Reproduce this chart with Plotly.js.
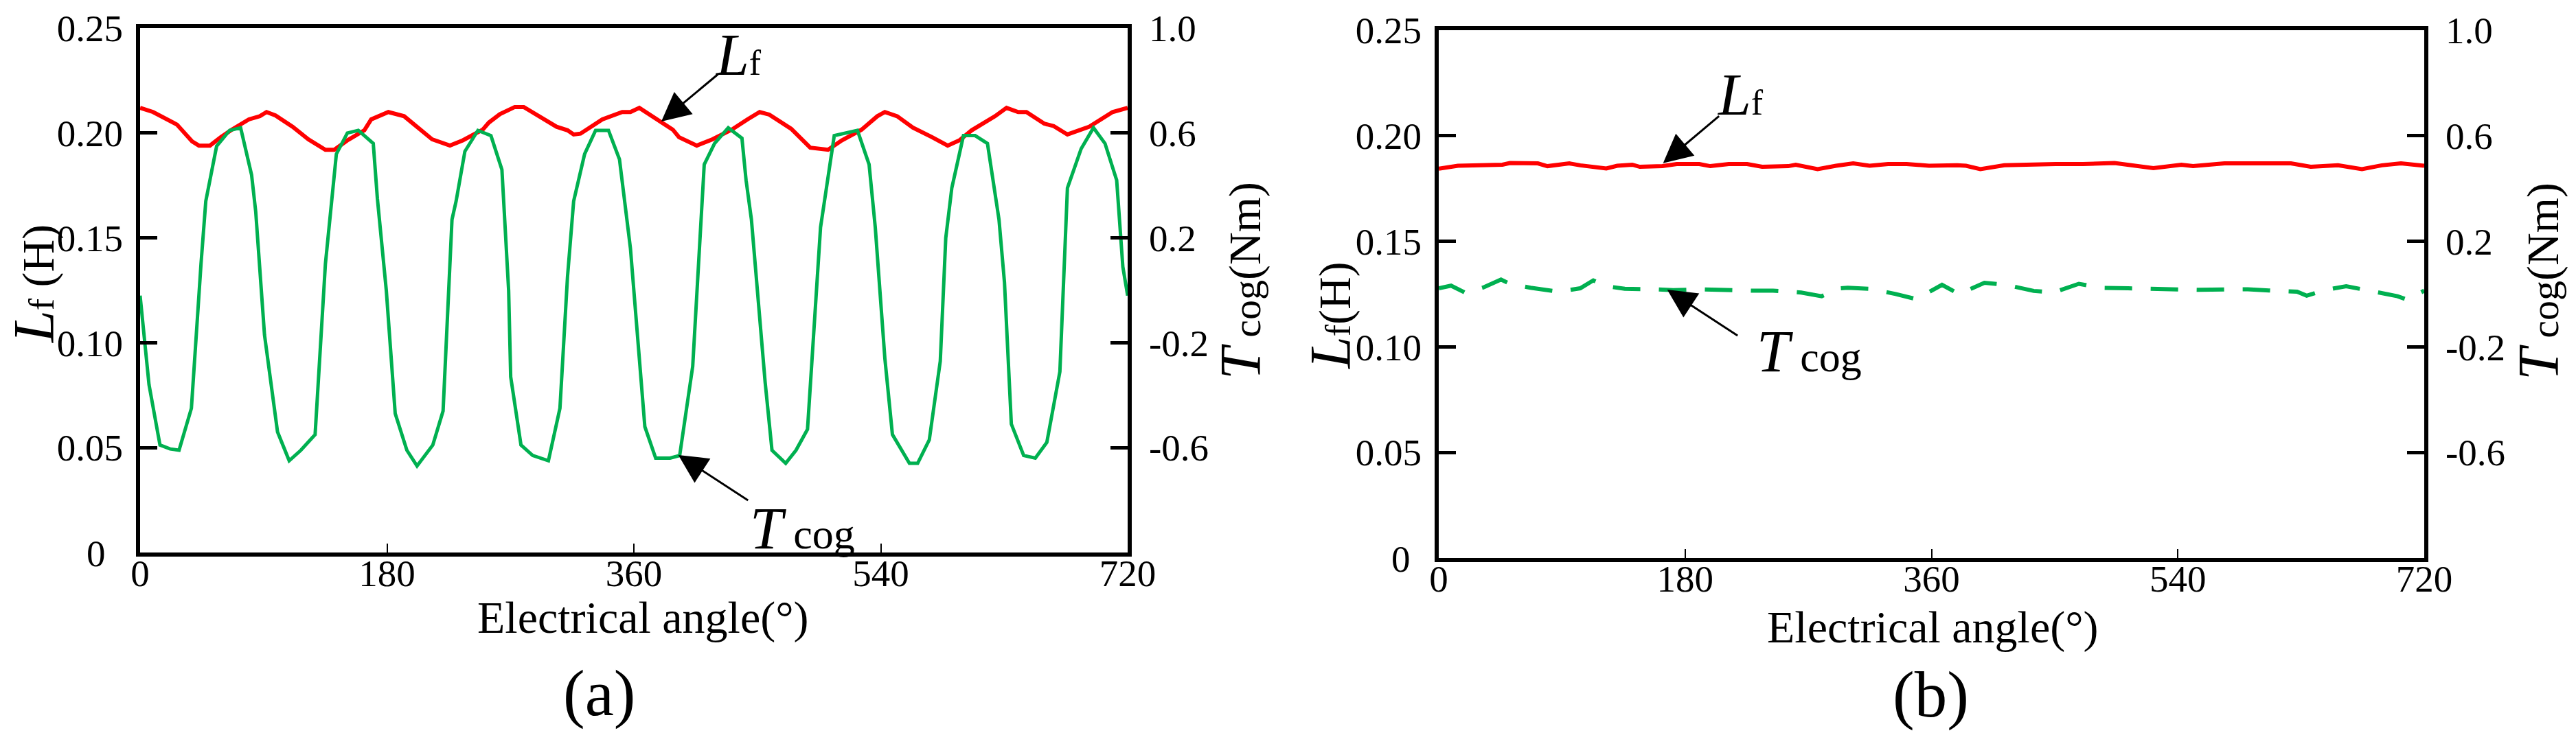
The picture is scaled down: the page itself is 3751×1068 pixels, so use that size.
<!DOCTYPE html>
<html>
<head>
<meta charset="utf-8">
<script src="https://cdn.plot.ly/plotly-3.0.1.min.js"></script>
<style>html,body{margin:0;padding:0;background:#fff;}#chart{width:3751px;height:1068px;}</style>
</head>
<body>
<div id="chart"></div>
<script>
// ---------- data (a) ----------
var angleLfA = [0, 9.5, 26.9, 37.9, 42.9, 50.9, 58.8, 66.8, 79.3, 87.3, 92.2, 98.7, 111.2, 122.7, 135.1, 141.6, 151.1, 163.5, 168.5, 181, 192.5, 204.9, 212.9, 225.9, 235.3, 249.8, 254.3, 262.3, 273.2, 279.7, 294.2, 303.6, 311.6, 316.1, 321.1, 337, 351.5, 357.5, 364, 378.4, 388.4, 392.9, 405.9, 417.3, 431.3, 442.8, 451.7, 458.7, 474.7, 488.6, 501.6, 511.6, 526, 537.5, 543, 552, 563.4, 577.4, 588.8, 597.3, 606.3, 623.3, 631.7, 640.2, 646.2, 659.1, 666.1, 676.1, 692.1, 709, 720];
var LfA = [0.212, 0.210, 0.204, 0.196, 0.194, 0.194, 0.198, 0.2016, 0.2065, 0.208, 0.210, 0.2084, 0.203, 0.197, 0.192, 0.192, 0.1965, 0.2013, 0.2065, 0.210, 0.208, 0.2013, 0.197, 0.194, 0.1965, 0.2016, 0.205, 0.209, 0.2124, 0.2124, 0.207, 0.203, 0.2013, 0.1993, 0.1997, 0.2065, 0.210, 0.210, 0.212, 0.206, 0.2016, 0.198, 0.194, 0.197, 0.2016, 0.2065, 0.210, 0.2088, 0.202, 0.193, 0.192, 0.1965, 0.2016, 0.208, 0.210, 0.208, 0.2026, 0.198, 0.194, 0.1965, 0.2013, 0.208, 0.212, 0.210, 0.210, 0.2045, 0.2033, 0.1993, 0.203, 0.210, 0.212];

var angleTcogA = [0, 6.5, 14.5, 21.9, 28.4, 37.4, 44.4, 47.9, 55.8, 65.3, 73.3, 81.3, 84.3, 90.7, 100.2, 108.7, 117.2, 127.6, 135.1, 143.1, 151.1, 159.1, 170.0, 173.0, 179.5, 186.0, 194.5, 201.9, 213.4, 220.9, 227.4, 230.4, 236.8, 246.3, 255.8, 263.8, 268.7, 270.2, 277.7, 286.2, 297.7, 306.1, 311.6, 316.1, 324.1, 332.1, 341.5, 349.5, 357.5, 368.0, 375.9, 386.4, 393.4, 402.9, 411.3, 418.8, 428.8, 438.8, 441.8, 445.7, 455.7, 460.7, 470.7, 478.2, 486.6, 496.1, 506.1, 514.6, 523.0, 531.5, 536.0, 543.0, 548.5, 560.9, 566.9, 575.4, 583.4, 587.4, 591.8, 600.3, 608.8, 617.8, 626.2, 630.2, 635.2, 644.2, 652.7, 661.1, 670.6, 676.1, 686.1, 695.1, 703.5, 712.0, 716.5, 720];
var TcogA = [-0.02, -0.36, -0.59, -0.605, -0.61, -0.45, 0.10, 0.34, 0.55, 0.61, 0.62, 0.44, 0.30, -0.17, -0.54, -0.65, -0.61, -0.55, 0.10, 0.52, 0.60, 0.61, 0.56, 0.35, 0.00, -0.47, -0.61, -0.67, -0.59, -0.46, 0.27, 0.34, 0.53, 0.61, 0.59, 0.46, 0.00, -0.33, -0.59, -0.63, -0.65, -0.45, 0.05, 0.34, 0.52, 0.61, 0.61, 0.50, 0.16, -0.52, -0.64, -0.64, -0.63, -0.29, 0.48, 0.56, 0.62, 0.58, 0.42, 0.27, -0.35, -0.61, -0.66, -0.61, -0.53, 0.24, 0.59, 0.60, 0.61, 0.48, 0.24, -0.26, -0.55, -0.66, -0.66, -0.57, -0.27, 0.20, 0.39, 0.59, 0.59, 0.56, 0.27, 0.03, -0.51, -0.63, -0.64, -0.58, -0.31, 0.39, 0.54, 0.62, 0.56, 0.42, 0.09, -0.02];

// ---------- data (b) ----------
var angleLfB = [0, 14.0, 46.5, 52.0, 72.4, 79.4, 95.4, 103.4, 122.4, 130.4, 141.4, 146.9, 163.4, 173.9, 190.4, 198.4, 211.9, 225.3, 236.3, 255.3, 260.8, 276.8, 290.3, 302.8, 314.8, 328.3, 341.8, 358.2, 378.7, 385.2, 395.7, 413.2, 450.7, 470.7, 493.7, 522.1, 542.6, 551.1, 574.1, 591.1, 608.6, 622.6, 637.1, 657.0, 674.5, 689.0, 703.0, 720];
var LfB = [0.1844, 0.1858, 0.1863, 0.1871, 0.1869, 0.1856, 0.1869, 0.1860, 0.1845, 0.1858, 0.1863, 0.1853, 0.1856, 0.1866, 0.1866, 0.1856, 0.1866, 0.1866, 0.1853, 0.1856, 0.1863, 0.1842, 0.1858, 0.1869, 0.1858, 0.1866, 0.1866, 0.1858, 0.1860, 0.1858, 0.1842, 0.1860, 0.1866, 0.1866, 0.1871, 0.1847, 0.1863, 0.1856, 0.1869, 0.1869, 0.1866, 0.1869, 0.1853, 0.1860, 0.1842, 0.1860, 0.1869, 0.1858];

var angleTcogB = [0, 9.0, 19.5, 33.0, 45.5, 52.0, 67.0, 87.4, 103.4, 112.9, 122.4, 135.9, 157.9, 171.4, 192.9, 209.4, 229.3, 244.3, 264.8, 279.8, 293.3, 298.8, 314.8, 333.8, 348.8, 367.7, 380.2, 398.7, 414.7, 434.7, 449.2, 467.7, 483.7, 503.6, 519.6, 539.6, 555.1, 575.6, 591.1, 612.6, 627.1, 634.1, 647.0, 663.0, 681.5, 700.5, 707.5, 720];
var TcogB = [0.022, 0.032, 0.005, 0.026, 0.055, 0.039, 0.024, 0.009, 0.022, 0.052, 0.030, 0.020, 0.018, 0.015, 0.018, 0.015, 0.013, 0.013, 0.006, -0.008, 0.022, 0.024, 0.020, 0.0005, -0.019, 0.035, 0.000, 0.043, 0.035, 0.012, 0.006, 0.039, 0.024, 0.022, 0.020, 0.018, 0.016, 0.018, 0.018, 0.012, 0.009, -0.006, 0.015, 0.030, 0.013, -0.008, -0.021, 0.013];

// ---------- axes ticks ----------
var angleTicks = [0, 180, 360, 540, 720];
var angleTickText = ['0', '180', '360', '540', '720'];
var LfTicks = [0.05, 0.10, 0.15, 0.20, 0.25];
var LfTickText = ['0.05', '0.10', '0.15', '0.20', '0.25'];
var TcogTicks = [-0.6, -0.2, 0.2, 0.6, 1.0];
var TcogTickText = ['-0.6', '-0.2', '0.2', '0.6', '1.0'];

var FONT = 'Liberation Serif';
var W = 3751, H = 1068;
function px(x) { return x / W; }
function py(y) { return 1 - y / H; }

var RED = '#FF0000', GREEN = '#00B050';

// red curves sit on the framed x axes, green curves on the overlaid label x axes (same range/domain)
var traces = [
  {x: angleLfA, y: LfA, xaxis: 'x', yaxis: 'y', mode: 'lines', line: {color: RED, width: 6}},
  {x: angleTcogA, y: TcogA, xaxis: 'x3', yaxis: 'y2', mode: 'lines', line: {color: GREEN, width: 5}},
  {x: angleLfB, y: LfB, xaxis: 'x2', yaxis: 'y3', mode: 'lines', line: {color: RED, width: 6}},
  {x: angleTcogB, y: TcogB, xaxis: 'x4', yaxis: 'y4', mode: 'lines', line: {color: GREEN, width: 6, dash: '40px,27px'}}
];

// framed x axes: box lines + inside tick marks
function xAx(domain, anchor) {
  return {
    domain: domain, anchor: anchor, range: [0, 720], tickmode: 'array',
    tickvals: angleTicks, ticktext: angleTickText,
    ticks: 'inside', ticklen: 13, tickwidth: 2, tickcolor: '#000',
    showline: true, linewidth: 6, linecolor: '#000', mirror: true,
    showgrid: false, zeroline: false, fixedrange: true, showticklabels: false
  };
}
// overlaid x axes carrying the tick labels, placed just under the frame
function xLab(overlay, pos) {
  return {
    overlaying: overlay, anchor: 'free', position: pos, side: 'bottom', range: [0, 720], tickmode: 'array',
    tickvals: angleTicks, ticktext: angleTickText, ticks: '', showline: false,
    showgrid: false, zeroline: false, fixedrange: true,
    tickfont: {family: FONT, size: 55, color: '#000'}
  };
}
function yLeft(domain, anchor) {
  return {
    domain: domain, anchor: anchor, range: [0, 0.25], tickmode: 'array',
    tickvals: LfTicks, ticktext: LfTickText,
    ticks: 'inside', ticklen: 25, tickwidth: 5, tickcolor: '#000',
    showline: true, linewidth: 6, linecolor: '#000',
    showgrid: false, zeroline: false, fixedrange: true,
    tickfont: {family: FONT, size: 55, color: '#000'}, ticklabelstandoff: 8
  };
}
function yRight(overlay, anchor) {
  return {
    overlaying: overlay, anchor: anchor, side: 'right', range: [-1, 1], tickmode: 'array',
    tickvals: TcogTicks, ticktext: TcogTickText,
    ticks: 'inside', ticklen: 25, tickwidth: 5, tickcolor: '#000',
    showline: true, linewidth: 6, linecolor: '#000',
    showgrid: false, zeroline: false, fixedrange: true,
    tickfont: {family: FONT, size: 55, color: '#000'}, ticklabelstandoff: 14
  };
}

function txt(text, x, y, size, angle) {
  return {text: text, xref: 'paper', yref: 'paper', x: px(x), y: py(y),
    xanchor: 'center', yanchor: 'middle', showarrow: false, textangle: angle || 0,
    font: {family: FONT, size: size, color: '#000'}};
}
function arrow(xref, yref, x, y, ax, ay) {
  return {text: '', xref: xref, yref: yref, x: x, y: y, ax: ax, ay: ay,
    showarrow: true, arrowhead: 2, arrowsize: 2.8, arrowwidth: 3, arrowcolor: '#000', standoff: 0};
}

var LfLabel = '<i>L</i><span style="font-size:52px">f</span>';
var TcogLabel = '<i>T</i><span style="font-size:62px"> cog</span>';

var annotations = [
  // panel (a)
  txt(LfLabel, 1075, 80, 86),
  arrow('x', 'y', 380, 0.2055, 84, -70),
  txt(TcogLabel, 1168, 770, 86),
  arrow('x', 'y2', 392.4, -0.628, 103, 67),
  txt('0', 140, 806, 55),
  txt('Electrical angle(°)', 936, 900, 66),
  txt('(a)', 872, 1010, 95),
  txt('<i>L</i><span style="font-size:52px">f</span><span style="font-size:66px"> (H)</span>', 50, 414, 84, -90),
  txt('<i>T</i><span style="font-size:58px"> cog</span><span style="font-size:66px">(Nm)</span>', 1806, 409, 84, -90),
  // panel (b)
  txt(LfLabel, 2534, 138, 86),
  arrow('x2', 'y3', 163.9, 0.187, 83, -70),
  txt(TcogLabel, 2634, 512, 86),
  arrow('x2', 'y4', 166.9, 0.0168, 104, 68),
  txt('0', 2040, 814, 55),
  txt('Electrical angle(°)', 2814, 914, 66),
  txt('(b)', 2811, 1012, 95),
  txt('<i>L</i><span style="font-size:52px">f</span><span style="font-size:66px">(H)</span>', 1938, 460, 84, -90),
  txt('<i>T</i><span style="font-size:58px"> cog</span><span style="font-size:66px">(Nm)</span>', 3697, 410, 84, -90)
];

var domA = [204 / W, 1642 / W], domB = [2095 / W, 3530 / W];
var layout = {
  width: W, height: H, margin: {l: 0, r: 0, t: 0, b: 0, pad: 0},
  paper_bgcolor: '#fff', plot_bgcolor: 'rgba(0,0,0,0)', showlegend: false,
  font: {family: FONT, color: '#000'},
  xaxis: xAx(domA, 'y'),
  yaxis: yLeft([(H - 805) / H, (H - 41) / H], 'x'),
  yaxis2: yRight('y', 'x'),
  xaxis2: xAx(domB, 'y3'),
  yaxis3: yLeft([(H - 813) / H, (H - 44) / H], 'x2'),
  yaxis4: yRight('y3', 'x2'),
  xaxis3: xLab('x', py(798)),
  xaxis4: xLab('x2', py(806)),
  annotations: annotations
};

Plotly.newPlot('chart', traces, layout, {staticPlot: true, displayModeBar: false});
</script>
</body>
</html>
